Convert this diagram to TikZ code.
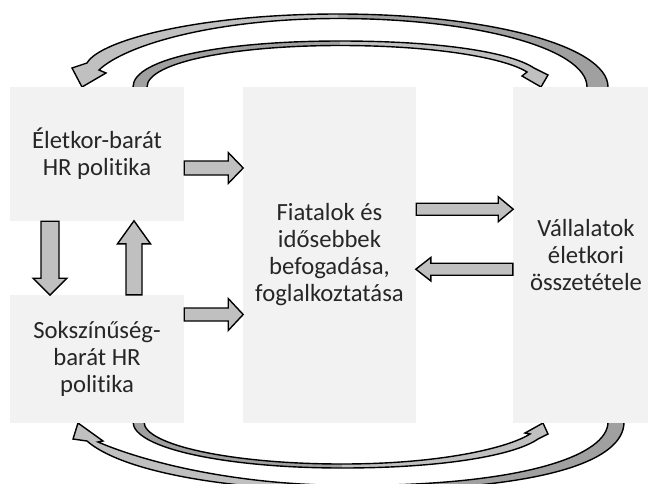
\documentclass[tikz,border=0pt]{standalone}
\usepackage{fontspec}
\setmainfont{Carlito}[Ligatures={NoCommon,NoContextual}]
\definecolor{boxfill}{HTML}{F2F2F2}
\definecolor{arrlight}{HTML}{C0C0C0}
\definecolor{arrdark}{HTML}{A0A0A0}
\definecolor{txt}{HTML}{262626}
% #1 start, #2 angle, #3 length, #4 shaft half width, #5 head half width, #6 head length
\newcommand\blockarrow[6]{%
  \begin{scope}[shift={#1},rotate=#2]
    \draw[blockarr] (0,-#4) -- ({#3-#6},-#4) -- ({#3-#6},-#5) -- (#3,0) -- ({#3-#6},#5) -- ({#3-#6},#4) -- (0,#4) -- cycle;
  \end{scope}}
\begin{document}
\begin{tikzpicture}[x=1pt,y=-1pt,
  box/.style={rectangle, fill=boxfill, draw=none, inner sep=0pt, align=center, text=txt,
    font=\fontsize{24.7}{27}\selectfont},
  blockarr/.style={draw=black, fill=arrlight, line width=1.4pt, line join=miter},
  curveline/.style={draw=black, line width=1.4pt, line join=miter}]
\useasboundingbox (0,0) rectangle (648,483);
\clip (0,0) rectangle (648,483);

% ---- outer top curved arrow (D -> A)
\fill[arrdark] (608,92) -- (608,87) .. controls (608,46) and (488,14) .. (338,14) -- (338,18.5) .. controls (478,18.5) and (587,49) .. (587,87) -- (587,92) -- cycle;
\fill[arrlight] (338,14) .. controls (200,14) and (100,40) .. (87,63) -- (72,68) -- (82,87) -- (106,73) -- (99,70) .. controls (125,45) and (215,18.5) .. (338,18.5) -- cycle;
\draw[curveline] (587,92) -- (587,87) .. controls (587,49) and (478,18.5) .. (338,18.5) .. controls (215,18.5) and (125,45) .. (99,70) -- (106,73) -- (82,87) -- (72,68) -- (87,63) .. controls (100,40) and (200,14) .. (338,14) .. controls (488,14) and (608,46) .. (608,87) -- (608,92);

% ---- inner top curved arrow (A -> D)
\fill[arrdark] (133,92) -- (133,87) .. controls (133,58) and (225,41) .. (340,41) -- (340,45.5) .. controls (235,45.5) and (147,62) .. (147,87) -- (147,92) -- cycle;
\fill[arrlight] (340,41) .. controls (440,41) and (510,52) .. (534,68) -- (548,75) -- (541,87) -- (522,76) -- (527,72) .. controls (505,58) and (435,45.5) .. (340,45.5) -- cycle;
\draw[curveline] (147,92) -- (147,87) .. controls (147,62) and (235,45.5) .. (340,45.5) .. controls (435,45.5) and (505,58) .. (527,72) -- (522,76) -- (541,87) -- (548,75) -- (534,68) .. controls (510,52) and (440,41) .. (340,41) .. controls (225,41) and (133,58) .. (133,87) -- (133,92);

% ---- inner bottom curved arrow (A -> D)
\fill[arrdark] (133,417) -- (133,422) .. controls (133,448) and (225,468) .. (342,468) -- (342,464) .. controls (232,464) and (144,445) .. (144,422) -- (144,417) -- cycle;
\fill[arrlight] (342,468) .. controls (445,468) and (515,455) .. (538,439) -- (548,434) -- (543,423) -- (525,433) -- (530,434) .. controls (508,448) and (440,464) .. (342,464) -- cycle;
\draw[curveline] (144,417) -- (144,422) .. controls (144,445) and (232,464) .. (342,464) .. controls (440,464) and (508,448) .. (530,434) -- (525,433) -- (543,423) -- (548,434) -- (538,439) .. controls (515,455) and (445,468) .. (342,468) .. controls (225,468) and (133,448) .. (133,422) -- (133,417);

% ---- outer bottom curved arrow (D -> A)
\fill[arrdark] (624,417) -- (624,422) .. controls (624,462) and (540,490.5) .. (352,490.5) -- (352,485.5) .. controls (525,485.5) and (608,455) .. (608,422) -- (608,417) -- cycle;
\fill[arrlight] (352,490.5) .. controls (220,490.5) and (120,470) .. (87,441) -- (73,439) -- (78,423) -- (103,441) -- (98,442) .. controls (140,460) and (230,485.5) .. (352,485.5) -- cycle;
\draw[curveline] (608,417) -- (608,422) .. controls (608,455) and (525,485.5) .. (352,485.5) .. controls (230,485.5) and (140,460) .. (98,442) -- (103,441) -- (78,423) -- (73,439) -- (87,441) .. controls (120,470) and (220,490.5) .. (352,490.5) .. controls (540,490.5) and (624,462) .. (624,422) -- (624,417);

% ---- boxes
\node[box, minimum width=174, minimum height=134] (A) at (97,154) {Életkor-barát\\HR politika};
\node[box, minimum width=174, minimum height=128] (B) at (97,359) {Sokszínűség-\\barát HR\\politika};
\node[box, minimum width=173, minimum height=335.5] (C) at (329.5,254.75) {Fiatalok és\\idősebbek\\befogadása,\\foglalkoztatása};
\node[box, minimum width=146, minimum height=335.5] (D) at (586,254.75) {Vállalatok\\életkori\\összetétele};

% ---- block arrows
\blockarrow{(A.east |- 0,168)}{0}{59}{7}{15.5}{15}
\blockarrow{(B.east |- 0,314.5)}{0}{59}{6.5}{16}{15}
\blockarrow{(50,0 |- A.south)}{-90}{74}{9}{17}{17}
\blockarrow{(134,0 |- B.north)}{90}{74}{8}{16.5}{23}
\blockarrow{(C.east |- 0,209.2)}{0}{97}{6}{12.5}{15}
\blockarrow{(D.west |- 0,269.2)}{180}{97}{6}{11.7}{15}
\end{tikzpicture}
\end{document}
